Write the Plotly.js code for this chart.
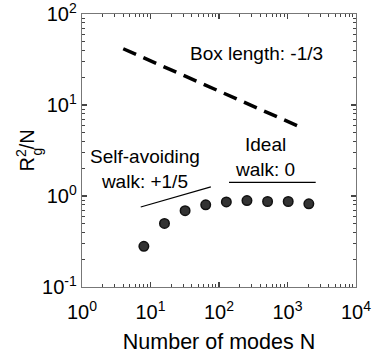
<!DOCTYPE html>
<html>
<head>
<meta charset="utf-8">
<script src="https://cdn.plot.ly/plotly-3.0.1.min.js"></script>
<style>
  html, body { margin: 0; padding: 0; background: #fff; }
  #chart { width: 380px; height: 356px; }
</style>
</head>
<body>
<div id="chart"></div>
<script>
// Radius of gyration per mode versus number of modes
const modesN = [8, 16, 32, 64, 128, 256, 512, 1024, 2048];
const rg2PerN = [0.28, 0.50, 0.69, 0.80, 0.86, 0.89, 0.87, 0.87, 0.82];

// Guide lines for the scaling regimes
const boxN = [4, 1440];
const boxY = [41.5, 5.85];
const sawN = [7.2, 76];
const sawY = [0.757, 1.26];
const idealN = [140, 2580];
const idealY = [1.41, 1.41];

// Axis ticks (decades)
const xTickVals = [1, 10, 100, 1000, 10000];
const xTickText = ['10<sup>0</sup>', '10<sup>1</sup>', '10<sup>2</sup>', '10<sup>3</sup>', '10<sup>4</sup>'];
const yTickVals = [0.1, 1, 10, 100];
const yTickText = ['10<sup>-1</sup>', '10<sup>0</sup>', '10<sup>1</sup>', '10<sup>2</sup>'];

// minor ticks at 2..9 within each decade
function minorTicks(decades) {
  const out = [];
  decades.slice(0, -1).forEach(d => { for (let k = 2; k <= 9; k++) out.push(d * k); });
  return out;
}

const FONT = 'Liberation Sans, Arial, Helvetica, sans-serif';
const X_RANGE = [0, 4];
const Y_RANGE = [-1, 2];

const traces = [
  {
    x: boxN, y: boxY, mode: 'lines', type: 'scatter',
    line: { color: '#000', width: 3.5, dash: '14px,8px' },
    hoverinfo: 'skip'
  },
  {
    x: sawN, y: sawY, mode: 'lines', type: 'scatter',
    line: { color: '#000', width: 1.2 },
    hoverinfo: 'skip'
  },
  {
    x: idealN, y: idealY, mode: 'lines', type: 'scatter',
    line: { color: '#000', width: 1.2 },
    hoverinfo: 'skip'
  },
  {
    x: modesN, y: rg2PerN, mode: 'markers', type: 'scatter',
    marker: { size: 9.5, color: '#333', line: { color: '#111', width: 1.5 } }
  },
  // invisible copy that anchors the mirrored top/right axes
  {
    x: modesN, y: rg2PerN, mode: 'markers', type: 'scatter',
    xaxis: 'x2', yaxis: 'y2', marker: { opacity: 0 }, hoverinfo: 'skip'
  }
];

function logAxis(range, tickVals, tickText) {
  return {
    type: 'log',
    range: range,
    showgrid: false,
    zeroline: false,
    showline: true,
    linecolor: '#777',
    linewidth: 1.2,
    ticks: 'inside',
    ticklen: 5,
    tickwidth: 1.1,
    tickcolor: '#444',
    tickmode: 'array',
    tickvals: tickVals,
    ticktext: tickText,
    ticklabeloverflow: 'allow',
    tickfont: { family: FONT, size: 20, color: '#000' },
    minor: {
      ticks: 'inside', ticklen: 3, tickwidth: 1, tickcolor: '#444', showgrid: false,
      tickmode: 'array', tickvals: minorTicks(tickVals)
    }
  };
}

const layout = {
  width: 380,
  height: 356,
  margin: { l: 82, r: 24, t: 14, b: 69 },
  paper_bgcolor: '#fff',
  plot_bgcolor: '#fff',
  showlegend: false,
  font: { family: FONT, size: 19, color: '#000' },
  xaxis: Object.assign(logAxis(X_RANGE, xTickVals, xTickText), {
    ticklabelstandoff: 7,
    title: { text: 'Number of modes N', font: { family: FONT, size: 21.5, color: '#000' }, standoff: 11 }
  }),
  yaxis: logAxis(Y_RANGE, yTickVals, yTickText),
  xaxis2: Object.assign(logAxis(X_RANGE, xTickVals, xTickText), {
    overlaying: 'x', side: 'top', anchor: 'y2', showticklabels: false
  }),
  yaxis2: Object.assign(logAxis(Y_RANGE, yTickVals, yTickText), {
    overlaying: 'y', side: 'right', anchor: 'x2', showticklabels: false
  }),
  annotations: [
    // y-axis label: R with stacked subscript g and superscript 2
    {
      xref: 'paper', yref: 'paper', x: 0, y: 0.5, xanchor: 'center', yanchor: 'middle',
      xshift: -57, yshift: 0, textangle: -90,
      text: 'R<sup>2</sup>/N', showarrow: false,
      font: { family: FONT, size: 20, color: '#000' }
    },
    {
      xref: 'paper', yref: 'paper', x: 0, y: 0.5, xanchor: 'center', yanchor: 'middle',
      xshift: -46, yshift: -1, textangle: -90,
      text: 'g', showarrow: false,
      font: { family: FONT, size: 14, color: '#000' }
    },
    {
      xref: 'x', yref: 'y', x: 2.547, y: 1.571,
      text: 'Box length: -1/3', showarrow: false,
      font: { family: FONT, size: 19, color: '#000' }
    },
    {
      xref: 'x', yref: 'y', x: 0.92, y: 0.30,
      text: 'Self-avoiding<br>walk: +1/5', showarrow: false, align: 'center',
      font: { family: FONT, size: 19, color: '#000' }
    },
    {
      xref: 'x', yref: 'y', x: 2.672, y: 0.426,
      text: 'Ideal<br>walk: 0', showarrow: false, align: 'center',
      font: { family: FONT, size: 19, color: '#000' }
    }
  ]
};

Plotly.newPlot('chart', traces, layout, { displayModeBar: false, staticPlot: true });
</script>
</body>
</html>
